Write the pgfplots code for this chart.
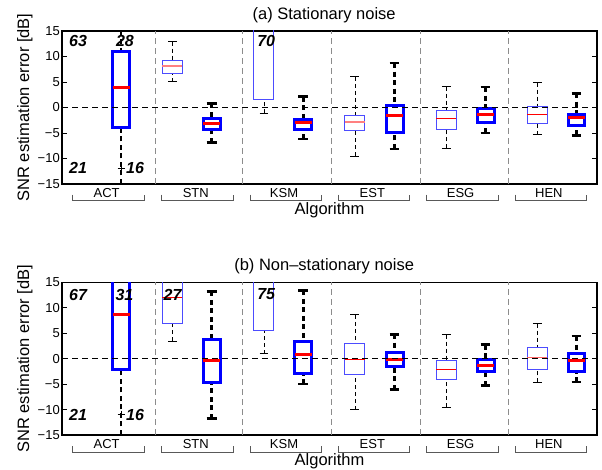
\documentclass[border=0pt]{standalone}
\usepackage{fontspec}
\setmainfont{Liberation Sans}
\usepackage{pgfplots}
\pgfplotsset{compat=1.18}
\usepgfplotslibrary{statistics}
\definecolor{sepgray}{gray}{0.55}
\definecolor{brkgray}{gray}{0.35}
\definecolor{lblue}{rgb}{0.3,0.3,1}
\tikzset{
  cnt/.style={font=\fontsize{16}{18}\selectfont\bfseries\itshape},
  grp/.style={font=\fontsize{13}{15}\selectfont},
  brk/.style={brkgray, line width=0.9pt},
}
\pgfplotsset{
  boxplot/boxcol/.initial=lblue,
  boxplot/boxlw/.initial=1pt,
  boxplot/medcol/.initial=red,
  boxplot/medlw/.initial=1pt,
  boxplot/wlw/.initial=0.8pt,
  boxplot/won/.initial=4pt,
  boxplot/woff/.initial=3pt,
  boxplot/draw/box/.code={%
    \draw[draw=\pgfkeysvalueof{/pgfplots/boxplot/boxcol}, line width=\pgfkeysvalueof{/pgfplots/boxplot/boxlw}, solid]
      (boxplot box cs:\pgfplotsboxplotvalue{lower quartile},0) rectangle (boxplot box cs:\pgfplotsboxplotvalue{upper quartile},1);
  },
  boxplot/draw/median/.code={%
    \draw[draw=\pgfkeysvalueof{/pgfplots/boxplot/medcol}, line width=\pgfkeysvalueof{/pgfplots/boxplot/medlw}, solid]
      (boxplot box cs:\pgfplotsboxplotvalue{median},0) -- (boxplot box cs:\pgfplotsboxplotvalue{median},1);
  },
  boxplot/draw/lower whisker/.code={%
    \draw[black, line width=\pgfkeysvalueof{/pgfplots/boxplot/wlw}, dash pattern=on \pgfkeysvalueof{/pgfplots/boxplot/won} off \pgfkeysvalueof{/pgfplots/boxplot/woff}]
      (boxplot cs:\pgfplotsboxplotvalue{lower whisker}) -- (boxplot cs:\pgfplotsboxplotvalue{lower quartile});
    \draw[black, line width=\pgfkeysvalueof{/pgfplots/boxplot/wlw}, solid]
      (boxplot whisker cs:\pgfplotsboxplotvalue{lower whisker},0) -- (boxplot whisker cs:\pgfplotsboxplotvalue{lower whisker},1);
  },
  boxplot/draw/upper whisker/.code={%
    \draw[black, line width=\pgfkeysvalueof{/pgfplots/boxplot/wlw}, dash pattern=on \pgfkeysvalueof{/pgfplots/boxplot/won} off \pgfkeysvalueof{/pgfplots/boxplot/woff}]
      (boxplot cs:\pgfplotsboxplotvalue{upper whisker}) -- (boxplot cs:\pgfplotsboxplotvalue{upper quartile});
    \draw[black, line width=\pgfkeysvalueof{/pgfplots/boxplot/wlw}, solid]
      (boxplot whisker cs:\pgfplotsboxplotvalue{upper whisker},0) -- (boxplot whisker cs:\pgfplotsboxplotvalue{upper whisker},1);
  },
  lightbox/.style={
    lblue,
    boxplot/draw direction=y,
    boxplot/box extend=0.224, boxplot/whisker extend=0.1,
    boxplot/boxcol=lblue, boxplot/boxlw=1pt,
    boxplot/medcol=red, boxplot/medlw=1pt,
    boxplot/wlw=0.8pt, boxplot/won=4pt, boxplot/woff=3pt,
  },
  pinkmed/.style={boxplot/medcol=red!50, boxplot/medlw=2.2pt},
  thickbox/.style={
    blue,
    boxplot/draw direction=y,
    boxplot/box extend=0.19, boxplot/whisker extend=0.11,
    boxplot/boxcol=blue, boxplot/boxlw=3pt,
    boxplot/medcol=red, boxplot/medlw=3pt,
    boxplot/wlw=2.6pt, boxplot/won=5pt, boxplot/woff=3.5pt,
  },
  myaxis/.style={
    width=535pt, scale only axis, xmin=0, xmax=6, ymin=-15, ymax=15,
    xtick=\empty, ytick={-15,-10,-5,0,5,10,15},
    yticklabels={−15,−10,−5,0,5,10,15},
    axis line style={line width=1.2pt},
    major tick style={line width=0.8pt, black}, major tick length=5pt,
    tick label style={font=\fontsize{13}{15}\selectfont},
    yticklabel style={inner sep=2pt},
    clip mode=individual,
    title style={font=\fontsize{16.5}{19}\selectfont, at={(axis description cs:0.49,1)}, anchor=center, yshift=10pt},
    xlabel style={font=\fontsize{16.5}{19}\selectfont, at={(axis description cs:0.5,0)}, anchor=center, yshift=-26pt},
    ylabel style={font=\fontsize{16.5}{19}\selectfont, at={(axis description cs:-0.0692,0.5)}, anchor=center},
    xlabel={Algorithm}, ylabel={SNR estimation error [dB]},
  },
  sepline/.style={sepgray, line width=0.8pt, dash pattern=on 6pt off 4pt},
  zeroline/.style={black, line width=1.2pt, dash pattern=on 6pt off 4pt},
}
\begin{document}
\begin{tikzpicture}
\path[use as bounding box] (0pt,0pt) rectangle (602pt,470pt);
% ---------------- (a) ----------------
\begin{axis}[myaxis, at={(62pt,286pt)}, anchor=south west, height=153pt,
  title={(a) Stationary noise}]
\addplot[sepline] coordinates {(1.046,-15) (1.046,15)};
\addplot[sepline] coordinates {(2.027,-15) (2.027,15)};
\addplot[sepline] coordinates {(3.024,-15) (3.024,15)};
\addplot[sepline] coordinates {(4.015,-15) (4.015,15)};
\addplot[sepline] coordinates {(5.005,-15) (5.005,15)};
% ACT
\addplot[thickbox, boxplot prepared={draw position=0.662, lower whisker=-20, lower quartile=-3.9, median=4.0, upper quartile=11.0, upper whisker=20}] coordinates {};
\addplot[only marks, mark=+, mark size=3.5pt, black, line width=0.8pt] coordinates {(0.662,-12.0)};
% STN
\addplot[lightbox, pinkmed, boxplot prepared={draw position=1.239, lower whisker=5.06, lower quartile=6.7, median=8.2, upper quartile=9.2, upper whisker=12.9}] coordinates {};
\addplot[thickbox, boxplot prepared={draw position=1.678, lower whisker=-6.9, lower quartile=-4.35, median=-3.2, upper quartile=-2.25, upper whisker=0.8}] coordinates {};
% KSM
\addplot[lightbox, boxplot prepared={draw position=2.265, lower whisker=-1.14, lower quartile=1.47, median=20, upper quartile=25, upper whisker=30}] coordinates {};
\addplot[thickbox, boxplot prepared={draw position=2.706, lower whisker=-6.2, lower quartile=-4.4, median=-3.0, upper quartile=-2.3, upper whisker=2.1}] coordinates {};
% EST
\addplot[lightbox, pinkmed, boxplot prepared={draw position=3.285, lower whisker=-9.5, lower quartile=-4.6, median=-2.8, upper quartile=-1.6, upper whisker=6.0}] coordinates {};
\addplot[thickbox, boxplot prepared={draw position=3.73, lower whisker=-8.1, lower quartile=-4.87, median=-1.6, upper quartile=0.43, upper whisker=8.7}] coordinates {};
% ESG
\addplot[lightbox, boxplot prepared={draw position=4.31, lower whisker=-8.0, lower quartile=-4.3, median=-2.25, upper quartile=-0.63, upper whisker=4.1}] coordinates {};
\addplot[thickbox, boxplot prepared={draw position=4.75, lower whisker=-5.0, lower quartile=-3.0, median=-1.47, upper quartile=-0.2, upper whisker=4.0}] coordinates {};
% HEN
\addplot[lightbox, boxplot prepared={draw position=5.33, lower whisker=-5.3, lower quartile=-3.2, median=-1.3, upper quartile=0.17, upper whisker=4.9}] coordinates {};
\addplot[thickbox, boxplot prepared={draw position=5.77, lower whisker=-5.45, lower quartile=-3.6, median=-2.06, upper quartile=-1.3, upper whisker=2.8}] coordinates {};
\addplot[zeroline] coordinates {(0,0) (6,0)};
\node[cnt] at (axis cs:0.18,13.1) {63};
\node[cnt] at (axis cs:0.706,13.1) {28};
\node[cnt] at (axis cs:2.29,13.1) {70};
\node[cnt] at (axis cs:0.18,-11.9) {21};
\node[cnt] at (axis cs:0.82,-11.9) {16};
\draw[brk] (axis cs:0.12,-17.1) -- (axis cs:0.12,-18.3) -- (axis cs:0.93,-18.3) -- (axis cs:0.93,-17.1);
\draw[brk] (axis cs:1.118,-17.1) -- (axis cs:1.118,-18.3) -- (axis cs:1.921,-18.3) -- (axis cs:1.921,-17.1);
\draw[brk] (axis cs:2.108,-17.1) -- (axis cs:2.108,-18.3) -- (axis cs:2.912,-18.3) -- (axis cs:2.912,-17.1);
\draw[brk] (axis cs:3.10,-17.1) -- (axis cs:3.10,-18.3) -- (axis cs:3.90,-18.3) -- (axis cs:3.90,-17.1);
\draw[brk] (axis cs:4.09,-17.1) -- (axis cs:4.09,-18.3) -- (axis cs:4.89,-18.3) -- (axis cs:4.89,-17.1);
\draw[brk] (axis cs:5.08,-17.1) -- (axis cs:5.08,-18.3) -- (axis cs:5.88,-18.3) -- (axis cs:5.88,-17.1);
\node[grp] at (axis cs:0.50,-16.7) {ACT};
\node[grp] at (axis cs:1.50,-16.7) {STN};
\node[grp] at (axis cs:2.49,-16.7) {KSM};
\node[grp] at (axis cs:3.48,-16.7) {EST};
\node[grp] at (axis cs:4.47,-16.7) {ESG};
\node[grp] at (axis cs:5.46,-16.7) {HEN};
\end{axis}
% ---------------- (b) ----------------
\begin{axis}[myaxis, at={(62pt,35pt)}, anchor=south west, height=152.7pt,
  title={(b) Non–stationary noise}]
\addplot[sepline] coordinates {(1.046,-15) (1.046,15)};
\addplot[sepline] coordinates {(2.027,-15) (2.027,15)};
\addplot[sepline] coordinates {(3.024,-15) (3.024,15)};
\addplot[sepline] coordinates {(4.015,-15) (4.015,15)};
\addplot[sepline] coordinates {(5.005,-15) (5.005,15)};
% ACT
\addplot[thickbox, boxplot prepared={draw position=0.662, lower whisker=-20, lower quartile=-2.16, median=8.76, upper quartile=20, upper whisker=25}] coordinates {};
\addplot[only marks, mark=+, mark size=3.5pt, black, line width=0.8pt] coordinates {(0.662,-10.9)};
% STN
\addplot[lightbox, boxplot prepared={draw position=1.239, lower whisker=3.46, lower quartile=7.0, median=12.1, upper quartile=20, upper whisker=25}] coordinates {};
\addplot[thickbox, boxplot prepared={draw position=1.678, lower whisker=-11.8, lower quartile=-4.7, median=-0.4, upper quartile=3.85, upper whisker=13.2}] coordinates {};
% KSM
\addplot[lightbox, boxplot prepared={draw position=2.265, lower whisker=0.98, lower quartile=5.5, median=20, upper quartile=25, upper whisker=30}] coordinates {};
\addplot[thickbox, boxplot prepared={draw position=2.706, lower whisker=-5.0, lower quartile=-2.9, median=0.85, upper quartile=3.3, upper whisker=13.4}] coordinates {};
% EST
\addplot[lightbox, boxplot prepared={draw position=3.285, lower whisker=-10.0, lower quartile=-3.2, median=-0.14, upper quartile=3.07, upper whisker=8.6}] coordinates {};
\addplot[thickbox, boxplot prepared={draw position=3.73, lower whisker=-6.1, lower quartile=-1.57, median=-0.07, upper quartile=1.3, upper whisker=4.8}] coordinates {};
% ESG
\addplot[lightbox, boxplot prepared={draw position=4.31, lower whisker=-9.5, lower quartile=-4.0, median=-2.16, upper quartile=-0.27, upper whisker=4.7}] coordinates {};
\addplot[thickbox, boxplot prepared={draw position=4.75, lower whisker=-5.3, lower quartile=-2.55, median=-1.3, upper quartile=-0.14, upper whisker=2.75}] coordinates {};
% HEN
\addplot[lightbox, boxplot/medcol=red!60, boxplot prepared={draw position=5.33, lower whisker=-4.65, lower quartile=-2.16, median=0.13, upper quartile=2.28, upper whisker=6.9}] coordinates {};
\addplot[thickbox, boxplot prepared={draw position=5.77, lower whisker=-4.6, lower quartile=-2.6, median=-0.46, upper quartile=0.98, upper whisker=4.43}] coordinates {};
\addplot[zeroline] coordinates {(0,0) (6,0)};
\node[cnt] at (axis cs:0.18,12.6) {67};
\node[cnt] at (axis cs:0.70,12.6) {31};
\node[cnt] at (axis cs:1.24,12.6) {27};
\node[cnt] at (axis cs:2.29,12.6) {75};
\node[cnt] at (axis cs:0.18,-11.1) {21};
\node[cnt] at (axis cs:0.82,-11.1) {16};
\draw[brk] (axis cs:0.12,-17.2) -- (axis cs:0.12,-18.35) -- (axis cs:0.93,-18.35) -- (axis cs:0.93,-17.2);
\draw[brk] (axis cs:1.118,-17.2) -- (axis cs:1.118,-18.35) -- (axis cs:1.921,-18.35) -- (axis cs:1.921,-17.2);
\draw[brk] (axis cs:2.108,-17.2) -- (axis cs:2.108,-18.35) -- (axis cs:2.912,-18.35) -- (axis cs:2.912,-17.2);
\draw[brk] (axis cs:3.10,-17.2) -- (axis cs:3.10,-18.35) -- (axis cs:3.90,-18.35) -- (axis cs:3.90,-17.2);
\draw[brk] (axis cs:4.09,-17.2) -- (axis cs:4.09,-18.35) -- (axis cs:4.89,-18.35) -- (axis cs:4.89,-17.2);
\draw[brk] (axis cs:5.08,-17.2) -- (axis cs:5.08,-18.35) -- (axis cs:5.88,-18.35) -- (axis cs:5.88,-17.2);
\node[grp] at (axis cs:0.50,-16.7) {ACT};
\node[grp] at (axis cs:1.50,-16.7) {STN};
\node[grp] at (axis cs:2.49,-16.7) {KSM};
\node[grp] at (axis cs:3.48,-16.7) {EST};
\node[grp] at (axis cs:4.47,-16.7) {ESG};
\node[grp] at (axis cs:5.46,-16.7) {HEN};
\end{axis}
\end{tikzpicture}
\end{document}
